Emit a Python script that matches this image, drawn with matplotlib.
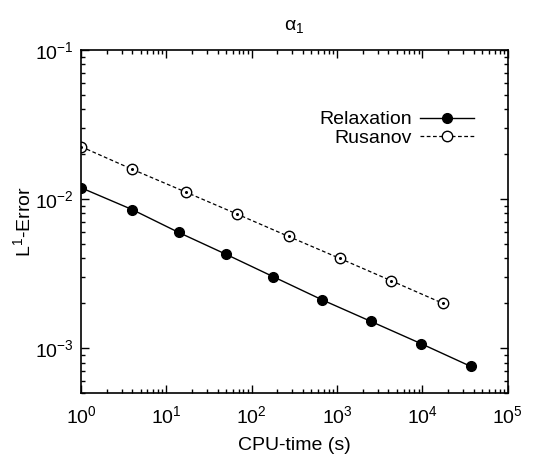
import matplotlib
matplotlib.use("Agg")
import matplotlib.pyplot as plt
from matplotlib.ticker import LogLocator, NullFormatter

plt.rcParams['font.family'] = ['Liberation Sans', 'DejaVu Sans']
plt.rcParams['mathtext.fontset'] = 'custom'
plt.rcParams['mathtext.rm'] = 'Liberation Sans'
plt.rcParams['mathtext.it'] = 'Liberation Sans'
plt.rcParams['mathtext.default'] = 'regular'

# CPU-time (s) and L1 error for both schemes
relax_time = [1.0, 4.0, 13.9, 50.3, 179, 664, 2490, 9660, 36900]
relax_err = [0.0119, 0.00848, 0.00597, 0.00425, 0.00301, 0.00211, 0.00151, 0.00107, 0.000753]
rus_time = [1.0, 4.0, 16.8, 67.1, 270, 1070, 4300, 17200]
rus_err = [0.02245, 0.0158, 0.01114, 0.00793, 0.00561, 0.0040, 0.00283, 0.0020]

fig = plt.figure(figsize=(5.55, 4.58), dpi=100)
ax = fig.add_axes([0.146, 0.142, 0.769, 0.749])

ax.plot(relax_time, relax_err, color='black', lw=1.0, marker='o', ms=7,
        mfc='black', mec='black', label='Relaxation')
ax.plot(rus_time, rus_err, color='black', lw=0.9, ls=(0, (3, 2)), marker='o', ms=7.5,
        mfc='white', mec='black', mew=1.0, label='Rusanov')
# small dot in the middle of the open circles
ax.plot(rus_time, rus_err, ls='none', marker='o', ms=1.2, color='black')

ax.set_xscale('log')
ax.set_yscale('log')
ax.set_xlim(1, 1e5)
ax.set_ylim(5e-4, 1e-1)

ax.xaxis.set_major_locator(LogLocator(base=10, numticks=10))
ax.xaxis.set_minor_locator(LogLocator(base=10, subs=range(2, 10), numticks=20))
ax.yaxis.set_minor_locator(LogLocator(base=10, subs=range(2, 10), numticks=20))
ax.xaxis.set_minor_formatter(NullFormatter())
ax.yaxis.set_minor_formatter(NullFormatter())

ax.tick_params(which='both', direction='in', top=True, right=True, labelsize=14, width=1.0)
ax.tick_params(which='major', length=6)
ax.tick_params(axis='x', which='major', pad=9)
ax.tick_params(axis='y', which='major', pad=5)
ax.tick_params(which='minor', length=3)
for s in ax.spines.values():
    s.set_linewidth(1.2)

ax.set_xlabel('CPU-time (s)', fontsize=14, labelpad=7)
ax.set_ylabel('L$^1$-Error', fontsize=14)
ax.yaxis.set_label_coords(-0.11, 0.5)
ax.set_title(r'$\alpha_1$', fontsize=14, pad=14)

ax.legend(loc='upper right', frameon=False, markerfirst=False, fontsize=14,
          handlelength=2.8, handletextpad=0.4, labelspacing=0.05,
          bbox_to_anchor=(0.94, 0.845), borderaxespad=0)

fig.savefig('out.png', dpi=100)
